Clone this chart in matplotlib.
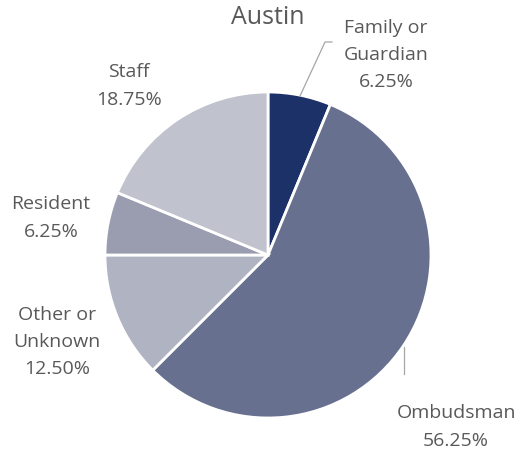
import matplotlib.pyplot as plt

# Complaint sources for Austin
categories = ["Family or\nGuardian", "Ombudsman", "Other or\nUnknown", "Resident", "Staff"]
shares = [6.25, 56.25, 12.50, 6.25, 18.75]
colors = ["#1c3168", "#687090", "#b0b3c2", "#9a9db0", "#c0c2cd"]

# label anchor points (pixels from top-left)
label_pos = [(386, 55), (456, 427), (57, 342), (51, 218), (129, 86)]

plt.rcParams["font.family"] = ["Open Sans", "DejaVu Sans"]

W, H = 522, 452
fig = plt.figure(figsize=(W / 100, H / 100), dpi=100)
ax = fig.add_axes([0, 0, 1, 1])

cx, cy, r = 268, H - 256, 163
ax.pie(shares, colors=colors, startangle=90, counterclock=False,
       center=(cx, cy), radius=r, frame=True,
       wedgeprops=dict(edgecolor="white", linewidth=2))
ax.set_xlim(0, W)
ax.set_ylim(0, H)
ax.set_aspect("equal")
ax.axis("off")

txt = "#595959"
ax.text(268, H - 18, "Austin", ha="center", va="center", fontsize=18, color=txt)

for name, val, (px, py) in zip(categories, shares, label_pos):
    ax.text(px, H - py, f"{name}\n{val:.2f}%", ha="center", va="center",
            fontsize=14, color=txt, linespacing=1.65)

# leader lines
ax.plot([300, 325, 332], [H - 97, H - 43, H - 43], color="#a6a6a6", lw=0.9)
ax.plot([404, 404], [H - 348, H - 375], color="#a6a6a6", lw=0.9)

fig.savefig("out.png", dpi=100)
